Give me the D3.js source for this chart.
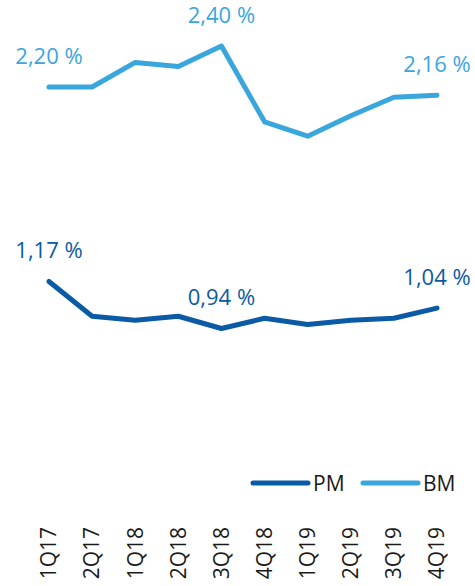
<!DOCTYPE html>
<html>
<head>
<meta charset="utf-8">
<script src="https://cdn.jsdelivr.net/npm/d3@7"></script>
<style>
  body { margin: 0; background: #fff; }
  text { font-family: "Open Sans", sans-serif; }
</style>
</head>
<body>
<script>
var width = 475;
var height = 586;

// data
var quarters = ["1Q17", "2Q17", "1Q18", "2Q18", "3Q18", "4Q18", "1Q19", "2Q19", "3Q19", "4Q19"];
var bmValues = [2.20, 2.20, 2.32, 2.30, 2.40, 2.03, 1.96, 2.06, 2.15, 2.16];
var pmValues = [1.17, 1.00, 0.98, 1.00, 0.94, 0.99, 0.96, 0.98, 0.99, 1.04];
var labelled = [0, 4, 9];

var pmColor = "#0b5aa6";
var bmColor = "#3aa6de";

var svg = d3.select("body")
    .append("svg")
    .attr("width", width)
    .attr("height", height);

var x = d3.scalePoint()
    .domain(quarters)
    .range([49, 437]);

// PM on the primary axis, BM on the secondary one
var yPM = d3.scaleLinear()
    .domain([0.5, 1.5])
    .range([418.5, 214]);

var yBM = d3.scaleLinear()
    .domain([1.5, 2.5])
    .range([230.5, 25.5]);

var series = [
    {name: "PM", values: pmValues, color: pmColor, y: yPM},
    {name: "BM", values: bmValues, color: bmColor, y: yBM}
];

series.forEach(function(s) {
    var line = d3.line()
        .x(function(d, i) { return x(quarters[i]); })
        .y(function(d) { return s.y(d); });

    svg.append("path")
        .attr("d", line(s.values))
        .attr("fill", "none")
        .attr("stroke", s.color)
        .attr("stroke-width", 5)
        .attr("stroke-linecap", "round")
        .attr("stroke-linejoin", "round");

    svg.selectAll(null)
        .data(labelled)
        .enter()
        .append("text")
        .attr("x", function(i) { return x(quarters[i]); })
        .attr("y", function(i) { return s.y(s.values[i]) - 23.5; })
        .attr("text-anchor", "middle")
        .attr("fill", s.color)
        .style("font-size", "22px")
        .text(function(i) { return s.values[i].toFixed(2).replace(".", ",") + " %"; });
});

// category labels, rotated
svg.selectAll(".qlabel")
    .data(quarters)
    .enter()
    .append("text")
    .attr("class", "qlabel")
    .attr("transform", function(d) { return "translate(" + x(d) + ",527) rotate(-90)"; })
    .attr("dy", "0.35em")
    .attr("text-anchor", "end")
    .attr("fill", "#1a1a1a")
    .style("font-size", "21px")
    .text(function(d) { return d; });

// legend
var legendX = [253, 363];
series.forEach(function(s, i) {
    svg.append("line")
        .attr("x1", legendX[i])
        .attr("x2", legendX[i] + 55)
        .attr("y1", 483)
        .attr("y2", 483)
        .attr("stroke", s.color)
        .attr("stroke-width", 5)
        .attr("stroke-linecap", "round");

    svg.append("text")
        .attr("x", legendX[i] + 60)
        .attr("y", 490.5)
        .attr("fill", "#1a1a1a")
        .style("font-size", "21px")
        .text(s.name);
});
</script>
</body>
</html>
